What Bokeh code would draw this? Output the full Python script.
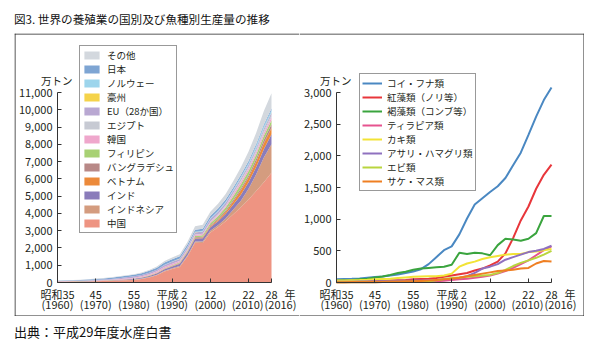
from bokeh.plotting import figure
from bokeh.models import (ColumnDataSource, FixedTicker, NumeralTickFormatter, Legend,
                          LegendItem, Label, LabelSet, Div, Range1d, Span)
from bokeh.core.properties import value
from bokeh.layouts import column, row
from bokeh.embed import file_html
from bokeh.resources import INLINE

JP = "Noto Sans CJK JP"

years = list(range(1960, 2017, 2))

# ---- left chart: production by country (万トン) ----
china = [40, 45, 50, 55, 65, 75, 85, 100, 115, 130, 150, 200, 290, 420, 640, 780, 900, 1500, 2300, 2280,
         2900, 3200, 3550, 3950, 4350, 4800, 5300, 5800, 6350]
indonesia = [5, 6, 7, 8, 9, 10, 11, 12, 14, 16, 20, 25, 30, 35, 42, 50, 60, 70, 80, 90, 100, 120, 160, 270,
             385, 630, 960, 1440, 1660]
india = [5, 6, 7, 8, 9, 10, 12, 15, 20, 30, 40, 50, 60, 70, 85, 100, 120, 150, 170, 190, 200, 220, 250, 300,
         350, 380, 420, 480, 570]
vietnam = [3, 3, 3, 3, 4, 4, 4, 4, 5, 5, 5, 6, 8, 10, 13, 16, 20, 25, 30, 40, 50, 75, 120, 170, 250, 270, 310,
           340, 362]
bangladesh = [2, 2, 2, 2, 3, 3, 3, 3, 4, 4, 5, 6, 8, 11, 15, 19, 25, 33, 45, 55, 66, 80, 90, 100, 115, 130,
              170, 200, 220]
philippines = [3, 3, 4, 4, 5, 5, 6, 7, 8, 9, 10, 13, 18, 25, 32, 37, 45, 55, 65, 80, 110, 140, 170, 200, 240,
               250, 250, 240, 235]
korea = [2, 2, 3, 3, 4, 5, 8, 15, 25, 40, 50, 55, 60, 70, 85, 80, 75, 80, 75, 70, 70, 80, 90, 130, 140, 135,
         150, 160, 166]
egypt = [1, 1, 1, 1, 1, 1, 1, 1, 2, 2, 2, 2, 3, 4, 5, 6, 7, 8, 10, 15, 34, 38, 47, 60, 70, 92, 100, 115, 137]
eu = [20, 23, 26, 30, 35, 40, 45, 50, 58, 65, 75, 80, 85, 90, 100, 110, 115, 120, 125, 135, 140, 140, 135,
      130, 128, 125, 122, 125, 129]
australia = [1, 1, 1, 1, 1, 1, 1, 1, 1, 1, 1, 1, 1, 1, 2, 2, 2, 2, 3, 3, 3, 4, 4, 4, 5, 5, 8, 9, 10]
norway = [0, 0, 0, 0, 0, 1, 1, 1, 1, 1, 1, 2, 3, 5, 10, 15, 15, 22, 32, 40, 49, 55, 64, 71, 85, 102, 130,
          135, 133]
japan = [20, 25, 30, 35, 40, 50, 60, 70, 80, 85, 90, 100, 110, 120, 130, 130, 130, 130, 125, 120, 130, 125,
         120, 115, 115, 110, 105, 100, 103]
others = [10, 12, 14, 16, 18, 20, 22, 25, 28, 30, 35, 40, 50, 60, 80, 100, 120, 150, 200, 220, 250, 280, 320,
          380, 440, 550, 650, 780, 877]

country_keys = ["china", "indonesia", "india", "vietnam", "bangladesh", "philippines", "korea", "egypt",
                "eu", "australia", "norway", "japan", "others"]
country_labels = ["中国", "インドネシア", "インド", "ベトナム", "バングラデシュ", "フィリピン", "韓国", "エジプト",
                  "EU（28か国）", "豪州", "ノルウェー", "日本", "その他"]
country_colors = ["#ee9482", "#d49c7f", "#8a7cba", "#ec8a3a", "#b88987", "#a8d174", "#efa7cc", "#c7cad3",
                  "#b9a8d2", "#f5d34a", "#9dd5ec", "#7ea5d3", "#d3d8de"]

# ---- right chart: production by species (万トン) ----
koi = [50, 55, 58, 65, 75, 85, 95, 110, 125, 150, 175, 210, 290, 400, 510, 570, 760, 1010, 1230, 1330, 1430,
       1520, 1650, 1850, 2050, 2330, 2620, 2880, 3080]
kouso = [10, 12, 14, 16, 18, 20, 25, 30, 35, 40, 50, 55, 60, 70, 90, 110, 130, 150, 190, 220, 270, 330, 460,
         700, 980, 1200, 1480, 1700, 1860]
kasso = [30, 35, 40, 50, 60, 80, 95, 120, 150, 170, 200, 220, 230, 240, 250, 280, 470, 450, 470, 460, 430,
         590, 690, 680, 660, 690, 780, 1050, 1050]
tilapia = [2, 2, 3, 3, 4, 5, 6, 7, 8, 9, 10, 12, 15, 20, 28, 40, 50, 60, 75, 90, 110, 140, 180, 230, 290, 350,
           430, 510, 570]
kaki = [30, 32, 35, 38, 42, 50, 55, 60, 70, 80, 90, 95, 100, 100, 110, 140, 250, 300, 330, 370, 400, 420, 440,
        450, 450, 480, 490, 510, 530]
asari = [10, 11, 12, 14, 16, 20, 22, 24, 26, 28, 30, 33, 36, 40, 50, 60, 75, 100, 150, 220, 250, 290, 360,
         400, 440, 480, 500, 530, 580]
ebi = [2, 2, 2, 3, 3, 5, 6, 7, 8, 9, 10, 14, 20, 35, 55, 70, 80, 90, 100, 110, 120, 150, 200, 260, 310, 350,
       390, 440, 500]
sake = [5, 5, 6, 6, 7, 10, 12, 14, 16, 18, 20, 25, 30, 40, 50, 60, 75, 100, 120, 140, 160, 180, 190, 200, 220,
        230, 300, 340, 330]

species_keys = ["koi", "kouso", "kasso", "tilapia", "kaki", "asari", "ebi", "sake"]
species_labels = ["コイ・フナ類", "紅藻類（ノリ等）", "褐藻類（コンブ等）", "ティラピア類", "カキ類",
                  "アサリ・ハマグリ類", "エビ類", "サケ・マス類"]
species_colors = ["#4a88c2", "#e8363b", "#3aa43e", "#e6538f", "#f2e336", "#8f71bf", "#b9d53e", "#ef7f22"]

tick_years = [1960, 1970, 1980, 1990, 2000, 2010, 2016]
tick_era = ["昭和35", "45", "55", "平成 2", "12", "22", "28"]
tick_ad = ["(1960)", "(1970)", "(1980)", "(1990)", "(2000)", "(2010)", "(2016)"]

TXT = "#231f20"
EDGE = "#222222"

# ---- page geometry (pixels) ----
BOX_L, BOX_T, FIG_W, FIG_H = 14, 33, 285, 283
Y0_PX, YTOP_PX = 282, 92          # screen rows of y=0 and y=top tick
X0, X1 = 1960, 2016


def make_fig(fig_left, x0_px, x1_px, ytop, left_edge):
    xs = (x1_px - x0_px) / (X1 - X0)
    ys = (Y0_PX - YTOP_PX) / ytop
    xr = Range1d(X0 - (x0_px - fig_left) / xs, X1 + (fig_left + FIG_W - x1_px) / xs)
    yr = Range1d(-(BOX_T + FIG_H - Y0_PX) / ys, ytop + (YTOP_PX - BOX_T) / ys)
    p = figure(width=FIG_W, height=FIG_H, x_range=xr, y_range=yr,
               output_backend="svg", toolbar_location=None, min_border=0,
               min_border_left=0, min_border_right=0, min_border_top=0, min_border_bottom=0,
               background_fill_color="white", border_fill_color="white", outline_line_color=None)
    p.grid.visible = False
    for ax in (p.xaxis[0], p.yaxis[0]):
        ax.axis_line_color = "#333333"
        ax.major_tick_line_color = "#333333"
        ax.major_tick_in = 4
        ax.major_tick_out = 0
        ax.minor_tick_line_color = None
        ax.major_label_text_font = JP
        ax.major_label_text_font_size = "11px"
        ax.major_label_text_color = TXT
    p.xaxis.fixed_location = 0
    p.yaxis.fixed_location = X0
    p.xaxis.bounds = (X0, X1)
    p.yaxis.bounds = (0, ytop)
    p.xaxis.ticker = FixedTicker(ticks=tick_years)
    p.xaxis.major_label_overrides = {y: t for y, t in zip(tick_years, tick_era)}
    p.xaxis.major_label_standoff = 3
    p.yaxis.major_label_standoff = 5
    p.yaxis.formatter = NumeralTickFormatter(format="0,0")
    # second row of x tick labels
    lab_src = ColumnDataSource(dict(x=tick_years, y=[0] * len(tick_years), t=tick_ad,
                                    xo=[0, 0, 0, 0, 0, -1, 9]))
    p.add_layout(LabelSet(x="x", y="y", text="t", source=lab_src, x_offset="xo", y_offset=-21,
                          text_align="center", text_baseline="middle", text_font=value(JP),
                          text_font_size=value("11px"), text_color=value(TXT)))
    p.add_layout(Label(x=X0, y=ytop, x_offset=15, y_offset=5, text="万トン", text_align="right",
                       text_baseline="bottom", text_font=JP, text_font_size="10.5px", text_color=TXT))
    p.add_layout(Label(x=X1, y=0, x_offset=13, y_offset=-3, text="年", text_align="left",
                       text_baseline="top", text_font=JP, text_font_size="11px", text_color=TXT))
    # outer box edges (decoration)
    p.add_layout(Span(location=yr.end - 0.5 / ys, dimension="width", line_color=EDGE, line_width=1))
    p.add_layout(Span(location=yr.start + 0.5 / ys, dimension="width", line_color=EDGE, line_width=1))
    if left_edge:
        p.add_layout(Span(location=xr.start + 0.5 / xs, dimension="height", line_color=EDGE, line_width=1))
    else:
        p.add_layout(Span(location=xr.end - 0.5 / xs, dimension="height", line_color=EDGE, line_width=1))
    return p


def make_legend(items, loc, gw, standoff):
    return Legend(items=items, location=loc, label_text_font=JP, label_text_font_size="9.5px",
                  label_text_color=TXT, glyph_width=gw, glyph_height=10, label_standoff=standoff,
                  padding=2, spacing=0, margin=0, border_line_color="#333333", border_line_width=1,
                  background_fill_color="white", background_fill_alpha=1)


# left figure
left_data = dict(year=years)
for k, v in zip(country_keys, [china, indonesia, india, vietnam, bangladesh, philippines, korea, egypt, eu,
                               australia, norway, japan, others]):
    left_data[k] = v
lsrc = ColumnDataSource(left_data)
p1 = make_fig(BOX_L, 57, 271, 11000, True)
p1.yaxis.ticker = FixedTicker(ticks=list(range(0, 11001, 1000)))
rends = p1.varea_stack(stackers=country_keys, x="year", source=lsrc, color=country_colors)
items1 = [LegendItem(label=l, renderers=[r]) for l, r in zip(country_labels, rends)][::-1]
p1.add_layout(make_legend(items1, (77 - BOX_L + 2, BOX_T + FIG_H - 233), 19, 6), "center")

# right figure
right_data = dict(year=years)
for k, v in zip(species_keys, [koi, kouso, kasso, tilapia, kaki, asari, ebi, sake]):
    right_data[k] = v
rsrc = ColumnDataSource(right_data)
p2 = make_fig(BOX_L + FIG_W, 336, 551, 3000, False)
p2.yaxis.ticker = FixedTicker(ticks=list(range(0, 3001, 500)))
items2 = []
for k, l, c in zip(species_keys, species_labels, species_colors):
    r = p2.line("year", k, source=rsrc, line_color=c, line_width=2)
    items2.append(LegendItem(label=l, renderers=[r]))
p2.add_layout(make_legend(items2, (357 - BOX_L - FIG_W + 2, BOX_T + FIG_H - 191), 20, 5), "center")

title_div = Div(text=("<div style=\"font-family:'Noto Sans CJK JP';font-size:11.6px;color:#111;"
                      "padding:12px 0 0 14px;line-height:15px;white-space:nowrap\">"
                      "図3. 世界の養殖業の国別及び魚種別生産量の推移</div>"),
                width=606, height=BOX_T, margin=(0, 0, 0, 0))
source_div = Div(text=("<div style=\"font-family:'Noto Sans CJK JP';font-size:13px;color:#111;"
                       "padding:8px 0 0 14px;line-height:16px;white-space:nowrap\">"
                       "出典：平成29年度水産白書</div>"),
                 width=606, height=351 - BOX_T - FIG_H, margin=(0, 0, 0, 0))

charts = row(p1, p2, spacing=0, margin=(0, 0, 0, BOX_L))
layout = column(title_div, charts, source_div, spacing=0, margin=(0, 0, 0, 0))

open("out.html", "w").write(file_html(layout, INLINE))
